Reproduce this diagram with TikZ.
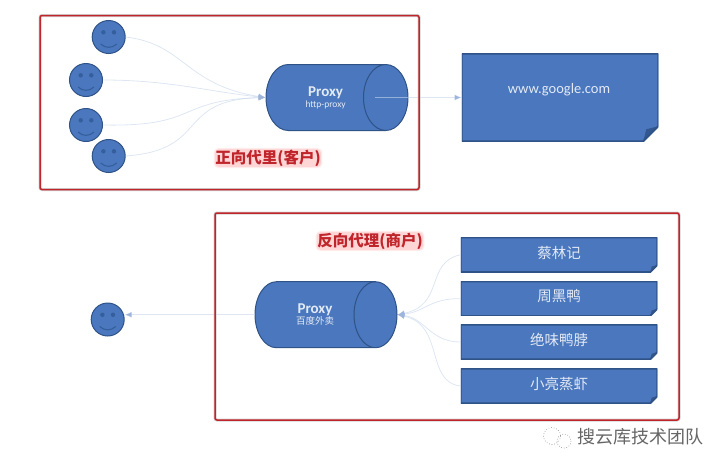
\documentclass[tikz,border=0pt]{standalone}
\usepackage{fontspec}
\usepackage{xcolor}
\usetikzlibrary{positioning,arrows.meta,shapes.geometric}
\setmainfont{Carlito}
\newfontfamily\cjk{Noto Sans CJK SC}
\definecolor{boxblue}{HTML}{4A77BD}
\definecolor{edgeblue}{HTML}{2F5287}
\definecolor{foldblue}{HTML}{33588F}
\definecolor{faceblue}{HTML}{345E9C}
\definecolor{paleline}{HTML}{C8D6EA}
\definecolor{palehead}{HTML}{9DB5DD}
\definecolor{paletext}{HTML}{E3EAF6}
\definecolor{framered}{HTML}{C0252B}
\tikzset{
  smiley/.style={circle, draw=edgeblue, fill=boxblue, line width=1pt, minimum size=33, inner sep=0pt,
    path picture={
      \fill[faceblue] (path picture bounding box.center) ++(-5.3,-4.7) circle (2.2);
      \fill[faceblue] (path picture bounding box.center) ++(5.3,-4.7) circle (2.2);
      \draw[faceblue, line width=1.1pt] (path picture bounding box.center) ++(-8,7) .. controls +(5,4.5) and +(-5,4.5) .. +(16,0);
    }},
  tube/.style={cylinder, draw=edgeblue, fill=boxblue, line width=1pt, aspect=2, minimum width=66, minimum height=142,
    inner sep=0pt, align=center, text=paletext, anchor=shape center},
  notebox/.style={rectangle, minimum width=196.5, text=paletext, inner sep=0pt,
    path picture={
      \fill[boxblue] (path picture bounding box.north west) -- (path picture bounding box.north east)
        -- ([yshift=#1 pt]path picture bounding box.south east) -- ([xshift=-#1 pt]path picture bounding box.south east)
        -- (path picture bounding box.south west) -- cycle;
      \fill[foldblue] ([yshift=#1 pt]path picture bounding box.south east) -- ([xshift=-#1 pt]path picture bounding box.south east)
        -- ([xshift=-0.8*#1 pt,yshift=0.8*#1 pt]path picture bounding box.south east) -- cycle;
      \draw[edgeblue, line width=1.8pt] (path picture bounding box.north west) -- (path picture bounding box.north east)
        -- ([yshift=#1 pt]path picture bounding box.south east) -- ([xshift=-#1 pt]path picture bounding box.south east)
        -- (path picture bounding box.south west) -- cycle;
    }},
  itembox/.style={notebox=7, minimum height=34.5, text depth=5.7pt, font=\cjk\fontsize{14.5}{15}\selectfont},
  link/.style={paleline, draw opacity=0.6, line width=0.8pt, -{Latex[length=7pt,width=6pt,color=palehead]}},
  redframe/.style={draw=framered, line width=1.5pt, rounded corners=2pt, inner sep=0pt,
    preaction={draw=gray!35, line width=3pt}},
  framelabel/.style={text=framered, fill=red!16, rounded corners=4pt, inner sep=0.5pt,
    preaction={draw=red!8, line width=2.5pt}, font=\cjk\bfseries\fontsize{15.5}{16}\selectfont}
}
\begin{document}
\begin{tikzpicture}[x=1pt,y=-1pt]
\useasboundingbox (0,0) rectangle (727,469);
% clients
\node[smiley] (clienta) at (108.7,37) {};
\node[smiley] (clientb) at (86,80) {};
\node[smiley] (clientc) at (86,125) {};
\node[smiley] (clientd) at (108.7,156) {};
\node[tube] (forward) at (337,97.5) {{\fontsize{15}{15}\selectfont\bfseries Proxy}\\[-1pt]{\fontsize{9.5}{10}\selectfont http-proxy}};
\coordinate (forwardout) at (375,97.5);
\node[notebox=15, minimum height=87.5] (google) at (560,97.5) {};
\node[text=paletext, font=\fontsize{14.5}{15}\selectfont] (googletext) at (559,90) {www.google.com};
\draw[link] (clienta.east) .. controls (185,44) and (185,85) .. (forward.west);
\draw[link] (clientb.east) .. controls (170,80) and (210,92) .. (forward.west);
\draw[link] (clientc.east) .. controls (200,127) and (175,100) .. (forward.west);
\draw[link] (clientd.east) .. controls (210,150) and (175,100) .. (forward.west);
\draw[link] (forwardout) -- (google.west);
% merchants
\node[smiley] (customer) at (107.7,319.5) {};
\node[tube] (reverse) at (326,314.7) {{\fontsize{15}{15}\selectfont\bfseries Proxy}\\[-1pt]{\cjk\fontsize{9.5}{10}\selectfont 百度外卖}};
\node[itembox] (itema) at (559,254.8) {蔡林记};
\node[itembox] (itemb) at (559,298.7) {周黑鸭};
\node[itembox] (itemc) at (559,342) {绝味鸭脖};
\node[itembox] (itemd) at (559,386) {小亮蒸虾};
\draw[link] (itema.west) .. controls (425,262) and (445,305) .. (reverse.east);
\draw[link] (itemb.west) .. controls (430,298) and (425,312) .. (reverse.east);
\draw[link] (itemc.west) .. controls (430,342) and (425,318) .. (reverse.east);
\draw[link] (itemd.west) .. controls (425,382) and (445,325) .. (reverse.east);
\draw[link] (reverse.west) -- (reverse.west -| customer.east);
% frames
\node[redframe, minimum width=379, minimum height=174] (clientframe) at (229.5,102.5) {};
\node[redframe, minimum width=464, minimum height=207] (merchantframe) at (447,316.5) {};
\node[framelabel] (clientlabel) at (268,158) {正向代里(客户)};
\node[framelabel] (merchantlabel) at (370,241) {反向代理(商户)};
% watermark
\draw[gray, line width=0.6pt, dotted] (552,436) circle (8.5);
\draw[gray, line width=0.6pt, dotted] (564,441) circle (7);
\node[text=black!60, font=\cjk\fontsize{18}{19}\selectfont] (watermark) at (640.5,437) {搜云库技术团队};
\end{tikzpicture}
\end{document}
